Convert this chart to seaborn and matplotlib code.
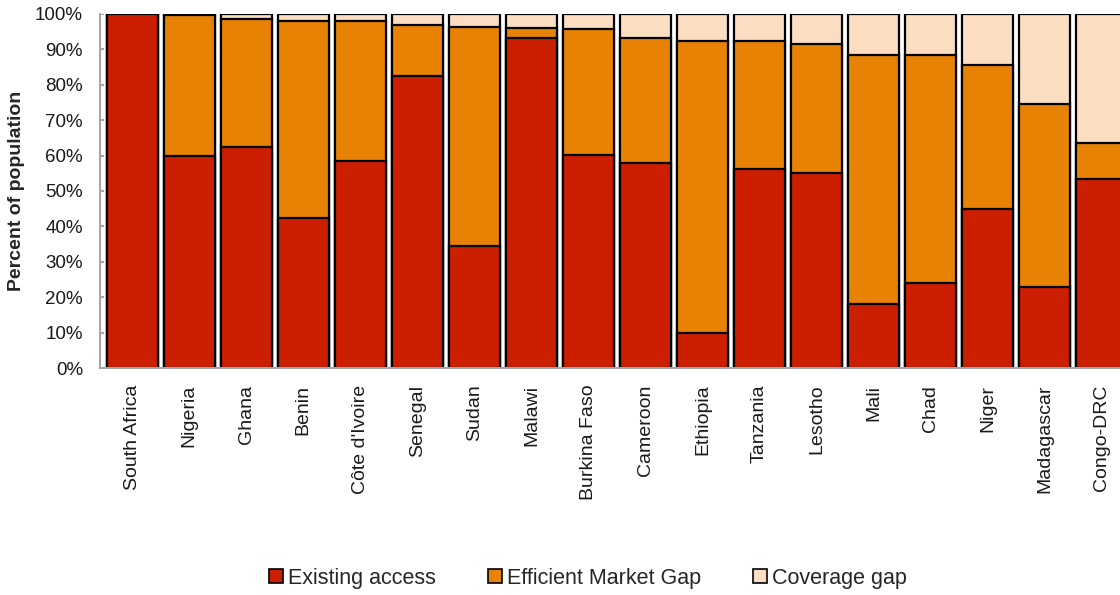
import numpy as np
import pandas as pd
import matplotlib
matplotlib.use("Agg")
import matplotlib.pyplot as plt
import seaborn as sns
from matplotlib.patches import Patch

countries = ["South Africa", "Nigeria", "Ghana", "Benin", "Côte d'Ivoire", "Senegal",
             "Sudan", "Malawi", "Burkina Faso", "Cameroon", "Ethiopia", "Tanzania",
             "Lesotho", "Mali", "Chad", "Niger", "Madagascar", "Congo-DRC"]
existing = [100.0, 60.0, 62.5, 42.5, 58.5, 82.5, 34.5, 93.2, 60.3, 57.8, 10.0, 56.2,
            55.2, 18.2, 24.0, 44.8, 22.8, 53.3]
market_gap = [0.0, 39.6, 36.0, 55.5, 39.5, 14.5, 61.7, 2.8, 35.5, 35.4, 82.5, 36.1,
              36.3, 70.1, 64.3, 40.8, 51.7, 10.2]
coverage_gap = [0.0, 0.4, 1.5, 2.0, 2.0, 3.0, 3.8, 4.0, 4.2, 6.8, 7.5, 7.7,
                8.5, 11.7, 11.7, 14.4, 25.5, 36.5]

series_names = ["Existing access", "Efficient Market Gap", "Coverage gap"]
colors = ["#CC1E00", "#E88204", "#FBDDC1"]

sns.set_style("white")
plt.rcParams['font.family'] = ['Liberation Sans', 'DejaVu Sans']

df = pd.DataFrame({"country": countries, "existing": existing,
                   "gap": market_gap, "coverage": coverage_gap})
df["top_gap"] = df["existing"] + df["gap"]
df["total"] = df["top_gap"] + df["coverage"]

fig = plt.figure(figsize=(11.2, 5.95), dpi=100)
ax = fig.add_axes([0.089, 0.3815, 0.911, 0.595])

# gridlines behind bars
ax.set_axisbelow(True)
ax.yaxis.grid(True, color="#A6A6A6", linewidth=1.5)

# white outline around each stack
sns.barplot(data=df, x="country", y="total", color="white", saturation=1,
            width=0.9, edgecolor="white", linewidth=5, ax=ax)
# stacked layers drawn from the top down
sns.barplot(data=df, x="country", y="total", color=colors[2], saturation=1,
            width=0.9, edgecolor="black", linewidth=1.6, ax=ax)
sns.barplot(data=df, x="country", y="top_gap", color=colors[1], saturation=1,
            width=0.9, edgecolor="black", linewidth=1.6, ax=ax)
sns.barplot(data=df, x="country", y="existing", color=colors[0], saturation=1,
            width=0.9, edgecolor="black", linewidth=1.6, ax=ax)

ax.set_ylim(0, 100)
ax.set_xlim(-0.57, 17.32)
ax.set_yticks(np.arange(0, 101, 10))
ax.set_yticklabels([f"{v}%" for v in range(0, 101, 10)], fontsize=13.5, color="#1a1a1a")
ax.set_xticks(range(len(countries)))
ax.set_xticklabels(countries, rotation=90, fontsize=14, color="#1a1a1a")
ax.tick_params(axis="y", length=6, width=1.5, color="#A6A6A6", pad=6)
ax.tick_params(axis="x", length=0, pad=12)
ax.set_xlabel("")
ax.set_ylabel("Percent of population", fontsize=14, fontweight="bold", labelpad=7)

for side in ["top", "right"]:
    ax.spines[side].set_visible(False)
for side in ["left", "bottom"]:
    ax.spines[side].set_color("#A6A6A6")
    ax.spines[side].set_linewidth(1.5)

handles = [Patch(facecolor=c, edgecolor="black", linewidth=1.2) for c in colors]
fig.legend(handles, series_names, loc="center", bbox_to_anchor=(0.525, 0.028),
           ncol=3, frameon=False, fontsize=15.5, handlelength=0.65, handleheight=0.65,
           handletextpad=0.25, columnspacing=2.4)

fig.savefig("out.png", dpi=100)
